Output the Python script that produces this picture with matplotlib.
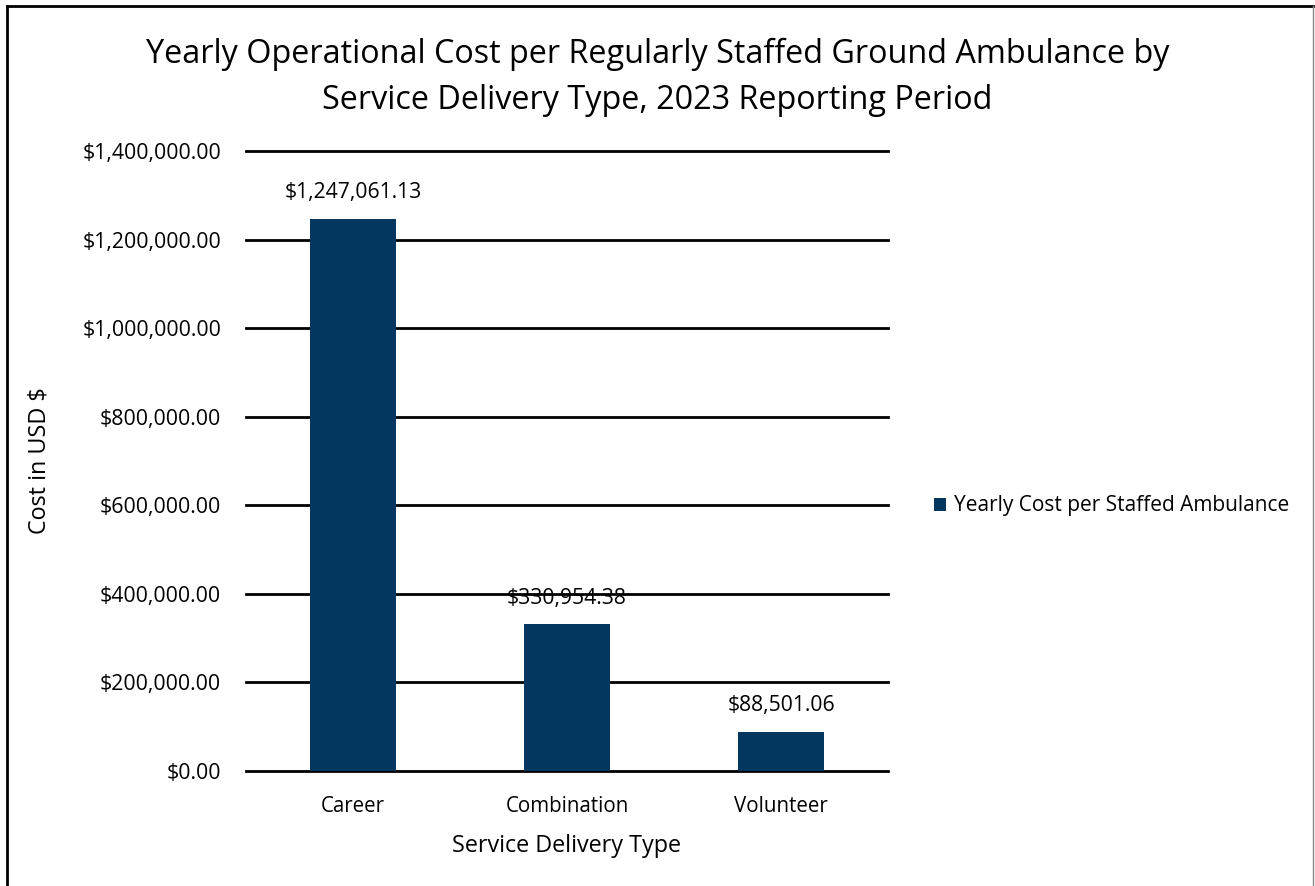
import matplotlib.pyplot as plt
from matplotlib.lines import Line2D
from matplotlib.ticker import FuncFormatter

# ---------------------------
# Dados
# ---------------------------
tipos = ["Career", "Combination", "Volunteer"]
custos = [1247061.13, 330954.38, 88501.06]
rotulos = ["$1,247,061.13", "$330,954.38", "$88,501.06"]
serie = "Yearly Cost per Staffed Ambulance"

cor_barra = "#03375f"
plt.rcParams["font.family"] = ["Open Sans", "DejaVu Sans"]

fig = plt.figure(figsize=(13.15, 8.86), dpi=100)
ax = fig.add_axes([246 / 1315, 1 - 771 / 886, 642 / 1315, 620 / 886])

# ---------------------------
# Barras
# ---------------------------
barras = ax.bar(tipos, custos, width=0.4, color=cor_barra, label=serie, zorder=3)
for b, txt in zip(barras, rotulos):
    ax.annotate(txt, (b.get_x() + b.get_width() / 2, b.get_height()),
                xytext=(0, 19), textcoords="offset points",
                ha="center", va="center", fontsize=15.2, zorder=4)

ax.set_xlim(-0.5, 2.5)
ax.set_ylim(0, 1400000)
ax.set_yticks(range(0, 1400001, 200000))
ax.yaxis.set_major_formatter(FuncFormatter(lambda v, p: f"${v:,.2f}"))
ax.grid(axis="y", color="black", linewidth=2, zorder=0)
for gl in ax.get_ygridlines():
    gl.set_clip_on(False)
for s in ax.spines.values():
    s.set_visible(False)
ax.tick_params(length=0, labelsize=15.3)
ax.tick_params(axis="x", labelsize=14.8)
ax.tick_params(axis="y", pad=18)
ax.tick_params(axis="x", pad=18)

ax.set_xlabel("Service Delivery Type", fontsize=16.8, labelpad=12)
ax.set_ylabel("Cost in USD $", fontsize=16.8, labelpad=22)

fig.text(0.5, 1 - 77 / 886, "Yearly Operational Cost per Regularly Staffed Ground Ambulance by\nService Delivery Type, 2023 Reporting Period",
         ha="center", va="center", fontsize=23.3, linespacing=1.52)

leg = fig.legend(handles=[barras], labels=[serie], loc="center left",
                 bbox_to_anchor=(915 / 1315, 1 - 506 / 886), frameon=False,
                 fontsize=15, handlelength=0.6, handleheight=0.6, handletextpad=0.35)

# moldura (topo, esquerda, direita)
fig.add_artist(Line2D([7 / 1315, 1313 / 1315], [1 - 6 / 886, 1 - 6 / 886], color="black", linewidth=2, transform=fig.transFigure))
fig.add_artist(Line2D([7 / 1315, 7 / 1315], [0, 1 - 6 / 886], color="black", linewidth=2, transform=fig.transFigure))
fig.add_artist(Line2D([1313 / 1315, 1313 / 1315], [0, 1 - 6 / 886], color="#888888", linewidth=1, transform=fig.transFigure))

fig.savefig("out.png", dpi=100)
